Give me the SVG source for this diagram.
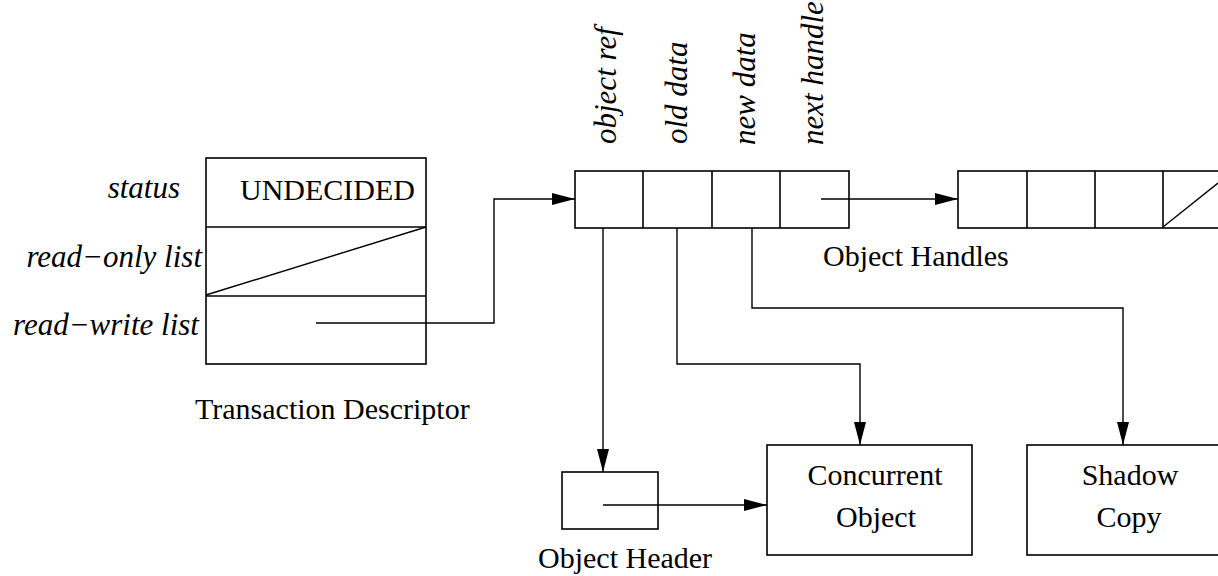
<svg xmlns="http://www.w3.org/2000/svg" width="1218" height="576" viewBox="0 0 1218 576">
<style>
.box{fill:none;stroke:#000;stroke-width:1.6}
.ln{fill:none;stroke:#000;stroke-width:1.4}
text{font-family:"Liberation Serif","Times New Roman",serif;font-size:30px;fill:#000}
.it{font-style:italic;font-size:31px}
</style>
<defs>
<marker id="ah" markerWidth="23" markerHeight="12" refX="23" refY="6" orient="auto" markerUnits="userSpaceOnUse">
<path d="M0,0 L23,6 L0,12 Z" fill="#000"/>
</marker>
</defs>
<rect width="1218" height="576" fill="#fff"/>
<g id="transaction-descriptor">
<rect class="box" x="206" y="158" width="220" height="206"/>
<line class="box" x1="206" y1="227" x2="426" y2="227"/>
<line class="box" x1="206" y1="296" x2="426" y2="296"/>
<line class="ln" x1="206" y1="295" x2="426" y2="227"/>
<text x="240" y="200">UNDECIDED</text>
<text class="it" x="180" y="198" text-anchor="end">status</text>
<text class="it" x="202" y="267" text-anchor="end">read−only list</text>
<text class="it" x="199" y="335" text-anchor="end">read−write list</text>
<text x="195" y="419">Transaction Descriptor</text>
</g>
<g id="object-handle-1">
<rect class="box" x="575" y="171" width="274" height="57"/>
<line class="box" x1="643" y1="171" x2="643" y2="228"/>
<line class="box" x1="712" y1="171" x2="712" y2="228"/>
<line class="box" x1="780" y1="171" x2="780" y2="228"/>
<text class="it" transform="translate(616,144) rotate(-90)">object ref</text>
<text class="it" transform="translate(687,144) rotate(-90)">old data</text>
<text class="it" transform="translate(755,145) rotate(-90)">new data</text>
<text class="it" transform="translate(823,145) rotate(-90)">next handle</text>
<text x="823" y="266">Object Handles</text>
</g>
<g id="object-handle-2">
<rect class="box" x="958" y="171" width="280" height="57"/>
<line class="box" x1="1027" y1="171" x2="1027" y2="228"/>
<line class="box" x1="1095" y1="171" x2="1095" y2="228"/>
<line class="box" x1="1163" y1="171" x2="1163" y2="228"/>
<line class="ln" x1="1163" y1="227" x2="1218" y2="183"/>
</g>
<g id="object-header">
<rect class="box" x="562" y="472" width="96" height="57"/>
<text x="538" y="568">Object Header</text>
</g>
<g id="concurrent-object">
<rect class="box" x="767" y="445" width="205" height="110"/>
<text x="875" y="485" text-anchor="middle">Concurrent</text>
<text x="876" y="527" text-anchor="middle">Object</text>
</g>
<g id="shadow-copy">
<rect class="box" x="1027" y="445" width="220" height="110"/>
<text x="1130" y="485" text-anchor="middle">Shadow</text>
<text x="1129" y="527" text-anchor="middle">Copy</text>
</g>
<g id="connectors">
<polyline class="ln" points="316,323 494,323 494,199 575,199" marker-end="url(#ah)"/>
<line class="ln" x1="821" y1="199" x2="958" y2="199" marker-end="url(#ah)"/>
<line class="ln" x1="603" y1="228" x2="603" y2="472" marker-end="url(#ah)"/>
<polyline class="ln" points="677,228 677,364 860,364 860,445" marker-end="url(#ah)"/>
<polyline class="ln" points="752,228 752,308 1123,308 1123,445" marker-end="url(#ah)"/>
<line class="ln" x1="603" y1="505" x2="767" y2="505" marker-end="url(#ah)"/>
</g>
</svg>
